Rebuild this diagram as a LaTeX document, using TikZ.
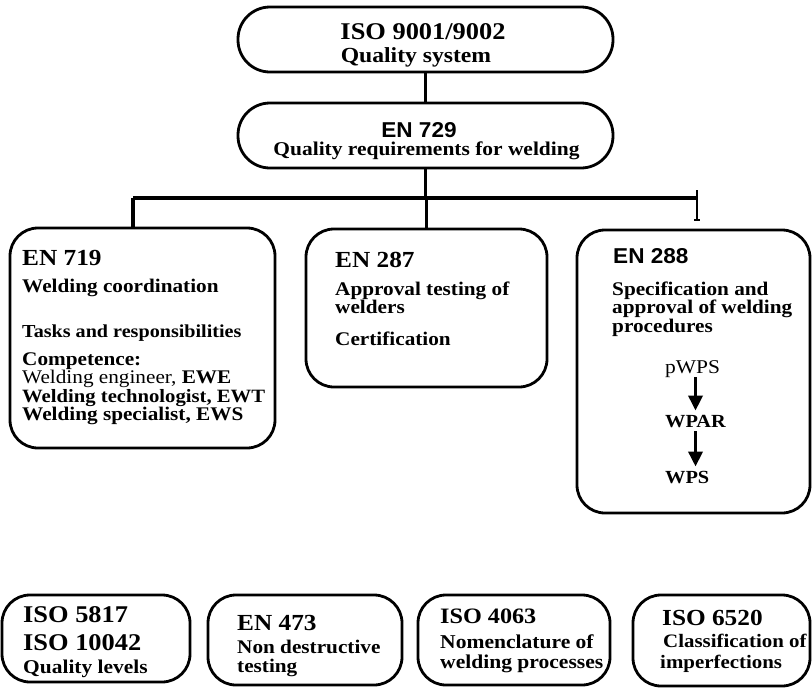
\documentclass[tikz,border=0pt]{standalone}
\usepackage{fontspec}
\setmainfont{Liberation Serif}[FakeStretch=1.1]
\newfontfamily\ensans{Liberation Sans}[FakeStretch=1.05]
\usetikzlibrary{arrows.meta,positioning}

\tikzset{
  box/.style={draw,line width=2.8pt,rounded corners=28pt,inner sep=0pt},
  link/.style={line width=3.5pt},
  head/.style={anchor=base west,inner sep=0pt,font=\bfseries\fontsize{23}{23}\selectfont},
  body/.style={anchor=base west,inner sep=0pt,font=\bfseries\fontsize{19.3}{19.3}\selectfont},
  flow/.style={-{Triangle[width=14pt,length=15pt]},line width=3.5pt},
}

\begin{document}
\begin{tikzpicture}[x=1pt,y=-1pt]
\useasboundingbox (0,0) rectangle (812,689);

% quality system
\node[box,rounded corners=32pt,minimum width=375pt,minimum height=65pt] (iso9001) at (425.5,39.5) {};
\node[head,anchor=base,font=\bfseries\fontsize{24}{24}\selectfont] (iso9001t) at (423,39) {ISO 9001/9002};
\node[body,anchor=base,font=\bfseries\fontsize{21.5}{21.5}\selectfont] (iso9001s) at (416,62) {Quality system};

\node[box,rounded corners=32pt,minimum width=375pt,minimum height=65pt] (en729) at (425.5,135.5) {};
\node[head,anchor=base,font=\ensans\bfseries\fontsize{21.5}{21.5}\selectfont] (en729t) at (419,137) {EN 729};
\node[body,anchor=base,font=\bfseries\fontsize{19.5}{19.5}\selectfont] (en729s) at (426.5,155) {Quality requirements for welding};

% middle row
\node[box,minimum width=265pt,minimum height=220pt] (en719) at (142.5,338) {};
\node[head] (en719t) at (22,265) {EN 719};
\node[body] (en719a) at (22,292) {Welding coordination};
\node[body,font=\bfseries\fontsize{18.3}{18.3}\selectfont] (en719b) at (22,337) {Tasks and responsibilities};
\node[body] (en719c) at (22,365) {Competence:};
\node[body,font=\fontsize{19.3}{19.3}\selectfont] (en719d) at (22,383) {Welding engineer, \textbf{EWE}};
\node[body,font=\bfseries\fontsize{18.8}{18.8}\selectfont] (en719e) at (22,402) {Welding technologist, EWT};
\node[body] (en719f) at (22,420) {Welding specialist, EWS};

\node[box,minimum width=241pt,minimum height=158pt] (en287) at (426.5,308) {};
\node[head] (en287t) at (335,267) {EN 287};
\node[body] (en287a) at (335,295) {Approval testing of};
\node[body] (en287b) at (335,313) {welders};
\node[body] (en287c) at (335,345) {Certification};

\node[box,minimum width=233pt,minimum height=283pt] (en288) at (693.5,371.5) {};
\node[head,font=\ensans\bfseries\fontsize{21.5}{21.5}\selectfont] (en288t) at (613,263) {EN 288};
\node[body] (en288a) at (612,295) {Specification and};
\node[body] (en288b) at (612,313) {approval of welding};
\node[body] (en288c) at (612,332) {procedures};
\node[body,font=\fontsize{19.5}{19.5}\selectfont] (pwps) at (665,373) {pWPS};
\node[body,font=\bfseries\fontsize{18.5}{18.5}\selectfont] (wpar) at (665,427) {WPAR};
\node[body,font=\bfseries\fontsize{18.5}{18.5}\selectfont] (wps) at (665,483) {WPS};
\draw[flow,shorten >=4pt] (pwps.south -| wpar) -- (wpar.north);
\draw[flow,shorten >=4pt,shorten <=4pt] (wpar.south) -- (wps.north -| wpar);

% connectors
\coordinate (barL) at (133,198);
\coordinate (barR) at (697,198);
\coordinate (markT) at (697,190);
\coordinate (markB) at (697,220);
\draw[link] (iso9001.south) -- (en729.north);
\draw[link] (en729.south) -- (en729.south |- barL);
\draw[link] (barL) -- (barR);
\draw[link] (barL) -- (barL |- en719.north);
\draw[link] (en287.north |- barL) -- (en287.north);
\draw[line width=1.3pt] (markT) -- (markB);
\draw[line width=1.3pt] ([xshift=-3pt]markB) -- ([xshift=3pt]markB);

% standards row
\node[box,minimum width=188pt,minimum height=87pt] (iso5817) at (96,638.5) {};
\node[head,font=\bfseries\fontsize{24}{24}\selectfont] (iso5817t) at (23,622) {ISO 5817};
\node[head,font=\bfseries\fontsize{24}{24}\selectfont] (iso10042t) at (23,650) {ISO 10042};
\node[body,font=\bfseries\fontsize{19.5}{19.5}\selectfont] (iso5817s) at (23,673) {Quality levels};

\node[box,minimum width=194pt,minimum height=90pt] (en473) at (305,640) {};
\node[head] (en473t) at (237,630) {EN 473};
\node[body] (en473a) at (237,653) {Non destructive};
\node[body] (en473b) at (237,672) {testing};

\node[box,minimum width=192pt,minimum height=90pt] (iso4063) at (514,640) {};
\node[head,font=\bfseries\fontsize{22}{22}\selectfont] (iso4063t) at (440,623) {ISO 4063};
\node[body,font=\bfseries\fontsize{19.6}{19.6}\selectfont] (iso4063a) at (440,648) {Nomenclature of};
\node[body,font=\bfseries\fontsize{19.6}{19.6}\selectfont] (iso4063b) at (440,668) {welding processes};

\node[box,minimum width=177pt,minimum height=91pt] (iso6520) at (721.5,640.5) {};
\node[head] (iso6520t) at (662,625) {ISO 6520};
\node[body,font=\bfseries\fontsize{19}{19}\selectfont] (iso6520a) at (663,647) {Classification of};
\node[body,font=\bfseries\fontsize{19}{19}\selectfont] (iso6520b) at (660,668) {imperfections};
\end{tikzpicture}
\end{document}
